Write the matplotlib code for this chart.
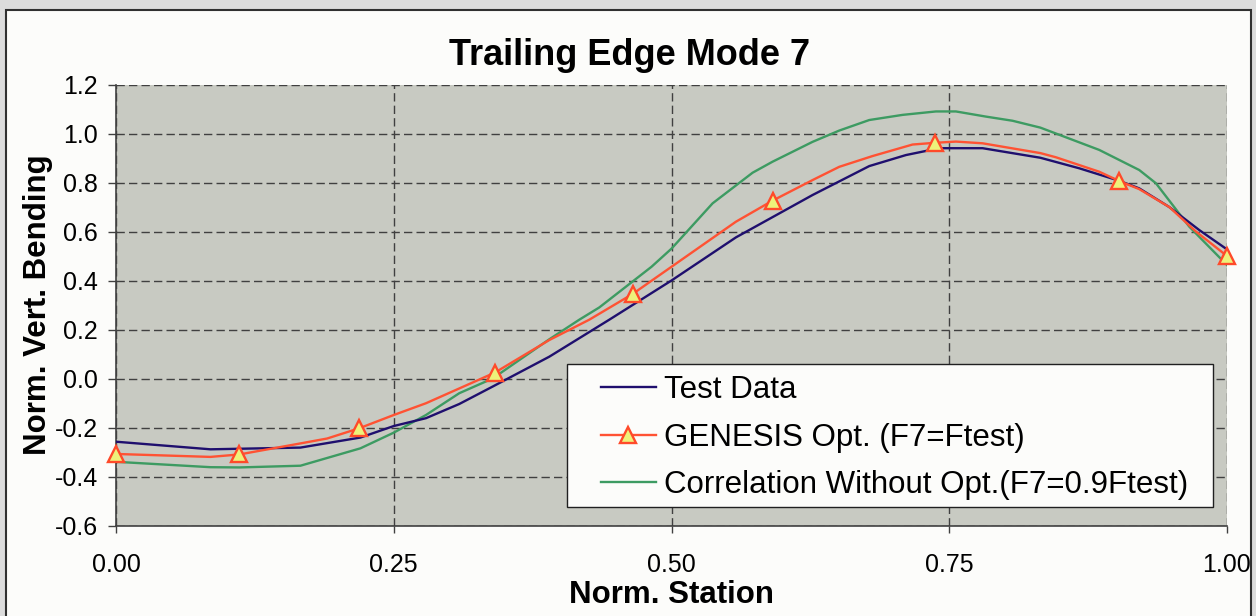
import matplotlib
matplotlib.use('Agg')
import matplotlib.pyplot as plt
from matplotlib.patches import Rectangle

plt.rcParams['font.family'] = ['Liberation Sans', 'DejaVu Sans']

# ---- data ----
test_x = [0.0, 0.085, 0.166, 0.22, 0.25, 0.279, 0.309, 0.339, 0.39, 0.444, 0.5,
          0.558, 0.627, 0.678, 0.711, 0.741, 0.78, 0.832, 0.867, 0.903, 0.921,
          0.948, 0.975, 1.0]
test_y = [-0.258, -0.289, -0.282, -0.241, -0.194, -0.162, -0.104, -0.033, 0.089,
          0.24, 0.40, 0.576, 0.749, 0.867, 0.912, 0.94, 0.94, 0.901, 0.858, 0.807,
          0.776, 0.70, 0.606, 0.527]

gen_x = [0.0, 0.085, 0.111, 0.166, 0.19, 0.219, 0.25, 0.279, 0.341, 0.39, 0.426,
         0.465, 0.5, 0.558, 0.591, 0.627, 0.651, 0.681, 0.717, 0.737, 0.756, 0.78,
         0.832, 0.846, 0.885, 0.903, 0.921, 0.948, 0.972, 1.0]
gen_y = [-0.308, -0.32, -0.31, -0.265, -0.245, -0.203, -0.149, -0.101, 0.024, 0.157,
         0.24, 0.345, 0.456, 0.64, 0.726, 0.81, 0.864, 0.908, 0.955, 0.962, 0.967,
         0.96, 0.92, 0.903, 0.844, 0.806, 0.773, 0.70, 0.60, 0.50]
gen_marker_x = [0.0, 0.111, 0.219, 0.341, 0.465, 0.591, 0.737, 0.903, 1.0]

cor_x = [0.0, 0.085, 0.111, 0.166, 0.22, 0.25, 0.279, 0.309, 0.339, 0.39, 0.417,
         0.435, 0.482, 0.5, 0.537, 0.573, 0.591, 0.627, 0.651, 0.678, 0.708, 0.738,
         0.756, 0.783, 0.807, 0.832, 0.885, 0.921, 0.936, 0.966, 1.0]
cor_y = [-0.34, -0.362, -0.363, -0.356, -0.285, -0.221, -0.149, -0.06, 0.0, 0.16,
         0.24, 0.29, 0.456, 0.53, 0.715, 0.84, 0.885, 0.966, 1.012, 1.055, 1.076,
         1.09, 1.09, 1.069, 1.052, 1.024, 0.933, 0.851, 0.797, 0.62, 0.463]

labels = ['Test Data', 'GENESIS Opt. (F7=Ftest)', 'Correlation Without Opt.(F7=0.9Ftest)']
x_ticks = [0.0, 0.25, 0.5, 0.75, 1.0]
y_ticks = [-0.6, -0.4, -0.2, 0.0, 0.2, 0.4, 0.6, 0.8, 1.0, 1.2]

# ---- figure ----
W, H = 1256, 616
fig = plt.figure(figsize=(W / 100, H / 100), dpi=100, facecolor='#dcdcdc')
frame = Rectangle((6 / W, -0.05), (1251 - 6) / W, 1.05 - 10 / H,
                  transform=fig.transFigure, facecolor='#fcfcfa',
                  edgecolor='#303030', lw=1.5, zorder=-10)
fig.add_artist(frame)

ax = fig.add_axes([116 / W, 1 - 525.5 / H, (1227 - 116) / W, (525.5 - 84.5) / H])
ax.set_zorder(1)
ax.set_facecolor('#c8cac2')

mark_idx = [gen_x.index(v) for v in gen_marker_x]
ax.plot(test_x, test_y, color='#1f0f6e', lw=1.7, label=labels[0], zorder=3)
ax.plot(gen_x, gen_y, color='#ff5233', lw=1.7, marker='^', markevery=mark_idx,
        markersize=11, markerfacecolor='#eef27a', markeredgecolor='#ff4a2a',
        markeredgewidth=1.7, label=labels[1], zorder=4, clip_on=False)
ax.plot(cor_x, cor_y, color='#3d9b62', lw=1.7, label=labels[2], zorder=2)

ax.set_xlim(0, 1)
ax.set_ylim(-0.6, 1.2)
ax.set_xticks(x_ticks)
ax.set_xticklabels(['%.2f' % v for v in x_ticks])
ax.set_yticks(y_ticks)
ax.set_yticklabels(['%.1f' % v for v in y_ticks])
ax.tick_params(axis='x', direction='out', length=5, width=1, color='#404040',
               pad=15, labelsize=18)
ax.tick_params(axis='y', direction='out', length=6, width=1, color='#404040',
               pad=7, labelsize=18)

ax.grid(True, color='#404040', lw=1.0, linestyle=(0, (6, 3)))
ax.set_axisbelow(True)
for s in ['top', 'right']:
    ax.spines[s].set_visible(False)
for s in ['left', 'bottom']:
    ax.spines[s].set_color('#404040')
    ax.spines[s].set_linewidth(1.2)

ax.set_title('Trailing Edge Mode 7', fontsize=26, fontweight='bold', pad=14,
             x=0.4627)
ax.set_xlabel('Norm. Station', fontsize=22.5, fontweight='bold', labelpad=2)
ax.set_ylabel('Norm. Vert. Bending', fontsize=22.5, fontweight='bold', labelpad=1)

# legend box (white, square corners) and legend entries placed inside it
box = Rectangle((0.406, 0.042), 0.9874 - 0.406, 0.3662 - 0.042,
                transform=ax.transAxes, facecolor='#fcfcfa', edgecolor='#202020',
                lw=1.0, zorder=9)
ax.add_patch(box)
leg = ax.legend(loc='upper left', bbox_to_anchor=(0.4365, 0.3405), fontsize=22.5,
                frameon=False, borderpad=0, labelspacing=0.55, handlelength=1.76,
                handletextpad=0.26, borderaxespad=0)
leg.set_zorder(10)

fig.savefig('out.png', dpi=100, facecolor=fig.get_facecolor())
